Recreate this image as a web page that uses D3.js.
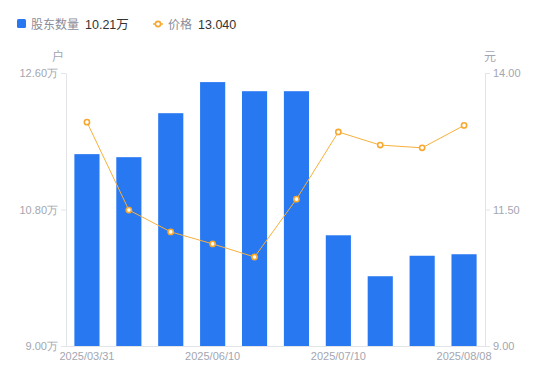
<!DOCTYPE html>
<html><head><meta charset="utf-8">
<script src="https://cdn.jsdelivr.net/npm/d3@7/dist/d3.min.js"></script>
<style>body{margin:0;background:#fff;font-family:"Noto Sans CJK SC","Noto Sans",sans-serif;}</style>
</head><body><svg id="c" width="550" height="381"></svg>
<script>
const categories = ["2025/03/31","2025/04/18","2025/05/09","2025/06/10","2025/06/20","2025/06/30","2025/07/10","2025/07/20","2025/07/31","2025/08/08"];
const shownLabels = ["2025/03/31","2025/06/10","2025/07/10","2025/08/08"];
const holders = [11.53, 11.49, 12.07, 12.48, 12.36, 12.36, 10.46, 9.92, 10.19, 10.21];
const prices = [13.10, 11.49, 11.09, 10.87, 10.63, 11.69, 12.92, 12.68, 12.63, 13.04];
const leftTicks = [9.00, 10.80, 12.60];
const rightTicks = [9.00, 11.50, 14.00];

const svg = d3.select("#c");
const m = {l:66, r:485, t:73, b:346};
const gray = "#a3a6b1", axisCol = "#e3e4e8";
const x = d3.scaleBand().domain(categories).range([m.l, m.r]).paddingInner(0.4).paddingOuter(0.2);
const yL = d3.scaleLinear().domain([9, 12.6]).range([m.b, m.t]);
const yR = d3.scaleLinear().domain([9, 14]).range([m.b, m.t]);

// bars
svg.selectAll("rect.bar").data(holders).enter().append("rect")
  .attr("x", (d,i)=>x(categories[i])).attr("width", x.bandwidth())
  .attr("y", d=>yL(d)).attr("height", d=>m.b-yL(d)).attr("fill", "#2878f2");

// axes
const styleAxis = g => { g.selectAll("path,line").attr("stroke", axisCol); g.selectAll("text").attr("fill", gray).style("font-size","11px").style("font-family","'Liberation Sans',Arial,sans-serif"); };
svg.append("g").attr("transform",`translate(${m.l},0)`)
  .call(d3.axisLeft(yL).tickValues(leftTicks).tickSize(5).tickSizeOuter(0).tickPadding(3).tickFormat(d=>d3.format(".2f")(d)+"万"))
  .call(styleAxis);
svg.append("g").attr("transform",`translate(${m.r},0)`)
  .call(d3.axisRight(yR).tickValues(rightTicks).tickSize(5).tickSizeOuter(0).tickPadding(3).tickFormat(d3.format(".2f")))
  .call(styleAxis);
svg.append("g").attr("transform",`translate(0,${m.b})`)
  .call(d3.axisBottom(x).tickValues(shownLabels).tickSize(0).tickSizeOuter(0).tickPadding(6))
  .call(styleAxis);

// unit labels
svg.append("text").attr("x", 58).attr("y", 61).attr("text-anchor","middle").attr("fill", gray).style("font-size","12px").text("户");
svg.append("text").attr("x", 490).attr("y", 61).attr("text-anchor","middle").attr("fill", gray).style("font-size","12px").text("元");

// line
const line = d3.line().x((d,i)=>x(categories[i])+x.bandwidth()/2).y(d=>yR(d));
svg.append("path").datum(prices).attr("d", line).attr("fill","none").attr("stroke","#f7b03a").attr("stroke-width",1);
svg.selectAll("circle.pt").data(prices).enter().append("circle")
  .attr("cx",(d,i)=>x(categories[i])+x.bandwidth()/2).attr("cy", d=>yR(d)).attr("r",2.6)
  .attr("fill","#fff").attr("stroke","#f7a831").attr("stroke-width",1.6);

// legend
const lg = svg.append("g").style("font-size","12px");
lg.append("rect").attr("x",17).attr("y",19).attr("width",9).attr("height",9).attr("rx",1.5).attr("fill","#2878f2");
lg.append("text").attr("x",31).attr("y",28.5).attr("fill","#8a8d99").text("股东数量");
lg.append("text").attr("x",85).attr("y",28.5).attr("fill","#333").style("font-family","'Liberation Sans',Arial,'Noto Sans CJK SC',sans-serif").style("font-size","12.5px").text("10.21万");
lg.append("line").attr("x1",153).attr("x2",163).attr("y1",24).attr("y2",24).attr("stroke","#f7b03a").attr("stroke-width",1.5);
lg.append("circle").attr("cx",158).attr("cy",24).attr("r",2.6).attr("fill","#fff").attr("stroke","#f7a831").attr("stroke-width",1.6);
lg.append("text").attr("x",168).attr("y",28.5).attr("fill","#8a8d99").text("价格");
lg.append("text").attr("x",198).attr("y",28.5).attr("fill","#333").style("font-family","'Liberation Sans',Arial,sans-serif").style("font-size","12.5px").text("13.040");
</script></body></html>
